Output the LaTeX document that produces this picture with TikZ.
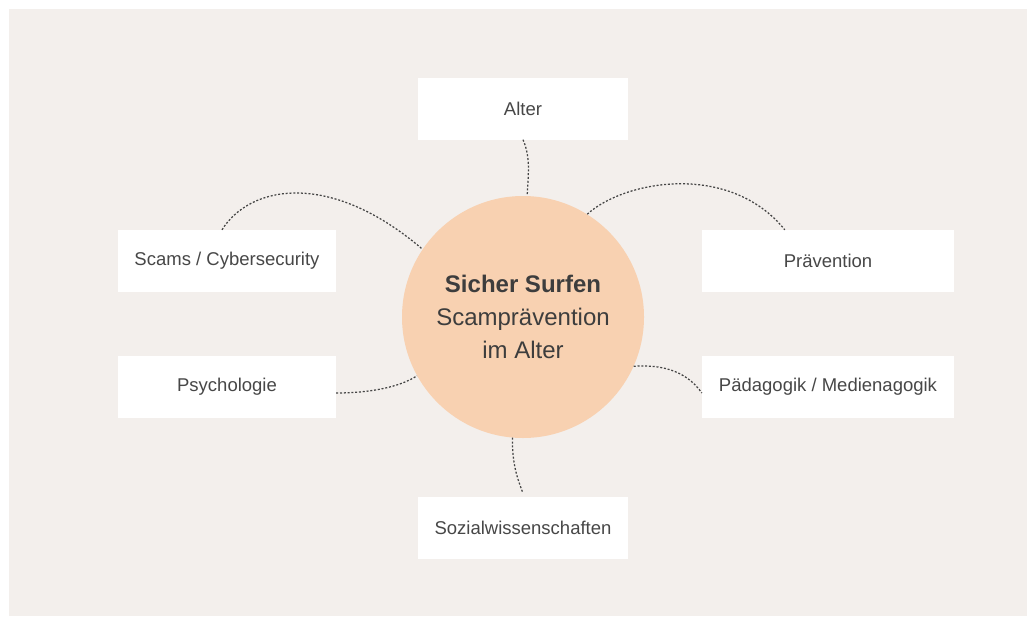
\documentclass[tikz,border=0pt]{standalone}
\usepackage{fontspec}
\setmainfont{Liberation Sans}
\usetikzlibrary{calc}
\definecolor{Backdrop}{HTML}{F3EFEC}
\definecolor{Peach}{HTML}{F8D1B1}
\definecolor{Ink}{HTML}{3D3D3D}
\definecolor{Label}{HTML}{474747}
\definecolor{Dots}{HTML}{454545}
\tikzset{
  topicbox/.style={draw=none,fill=white,inner sep=0pt,minimum height=62pt,align=center,font=\fontsize{18.5}{22}\selectfont,text=Label},
  hubcircle/.style={circle,draw=none,fill=Peach,inner sep=0pt,minimum size=242pt,align=center,font=\fontsize{24}{33}\selectfont,text=Ink},
  link/.style={draw=Dots,line width=1.25pt,dash pattern=on 2pt off 1.8pt}
}

\begin{document}
\begin{tikzpicture}[x=1pt,y=-1pt]
  \useasboundingbox (0,0) rectangle (1027,616);
  \fill[Backdrop] (9,9) rectangle (1027,616);

  \node[hubcircle] (hub) at (523,317) {\textbf{Sicher Surfen}\\Scampr\"avention\\im Alter};

  \node[topicbox,minimum width=210pt] (alter) at (523,108.5) {Alter};
  \node[topicbox,minimum width=218pt] (scams) at (227,261) {Scams / Cybersecurity};
  \node[topicbox,minimum width=252pt] (praev) at (828,261) {Pr\"avention};
  \node[topicbox,minimum width=218pt] (psych) at (227,387) {Psychologie};
  \node[topicbox,minimum width=252pt] (paed) at (828,387) {P\"adagogik / Medienagogik};
  \node[topicbox,minimum width=210pt] (sozial) at (523,527.5) {Sozialwissenschaften};

  \draw[link] (alter.south) .. controls (531,158) and (528,175) .. (hub.88);
  \draw[link] ([xshift=-5pt]scams.north) .. controls (250,185) and (330,170) .. (hub.146);
  \draw[link] (hub.58) .. controls (625,180) and (730,162) .. ([xshift=83pt]praev.north west);
  \draw[link] ([yshift=-6pt]psych.east) .. controls (370,393) and (400,387) .. (hub.209);
  \draw[link] (hub.336) .. controls (665,364) and (688,373) .. ([yshift=-6pt]paed.west);
  \draw[link] (hub.265) .. controls (512,465) and (518,480) .. ([yshift=3pt]sozial.north);
\end{tikzpicture}
\end{document}
